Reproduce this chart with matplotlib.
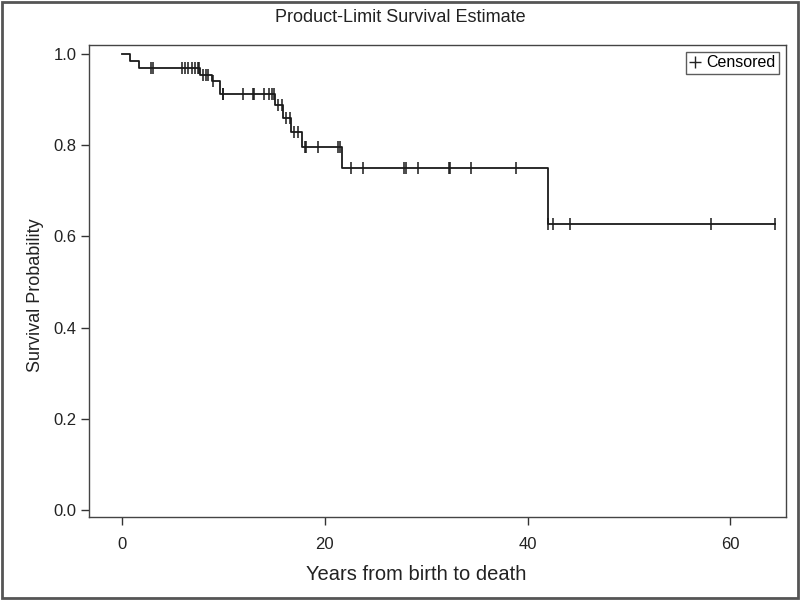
import matplotlib
matplotlib.use("Agg")
import matplotlib.pyplot as plt
import numpy as np
from matplotlib.lines import Line2D
from matplotlib.patches import Rectangle

plt.rcParams['font.family'] = ['Liberation Sans', 'DejaVu Sans']

# Step function: times where survival drops, and level after each drop
step_times = [0.0, 0.75, 1.7, 7.7, 8.9, 9.6, 15.1, 15.9, 16.7, 17.7, 21.7, 42.0]
step_levels = [1.0, 0.985, 0.969, 0.955, 0.940, 0.912, 0.888, 0.859, 0.830, 0.797, 0.751, 0.627]
end_time = 64.4

# Censored observation times
censor_times = [2.8, 3.0, 5.9, 6.2, 6.5, 6.9, 7.2, 7.5, 7.6,
                8.0, 8.3, 8.5, 9.0, 9.9, 9.95,
                11.9, 12.95, 13.05, 14.0, 14.5, 14.8, 15.0,
                15.35, 15.8, 16.2, 16.6, 16.9, 17.3,
                18.0, 18.1, 19.3, 21.3, 21.5,
                22.6, 23.8, 27.8, 28.0, 29.2, 32.2, 32.35, 34.4, 38.9,
                42.0, 42.5, 44.2, 58.1, 64.4]

x_ticks = [0, 20, 40, 60]
y_ticks = [0.0, 0.2, 0.4, 0.6, 0.8, 1.0]

fig = plt.figure(figsize=(8, 6), dpi=100)
ax = fig.add_axes([0.111, 0.138, 0.8715, 0.787])

xs = list(step_times) + [end_time]
ys = list(step_levels) + [step_levels[-1]]
ax.step(xs, ys, where='post', color='#1a1a1a', lw=1.3)

def surv_at(t):
    idx = np.searchsorted(step_times, t, side='right') - 1
    return step_levels[max(idx, 0)]

cy = [surv_at(t) for t in censor_times]
ax.plot(censor_times, cy, linestyle='none', marker='|', markersize=9,
        markeredgewidth=1.1, color='#1a1a1a')

ax.set_xlim(-3.3, 65.5)
ax.set_ylim(-0.0154, 1.0197)
ax.set_xticks(x_ticks)
ax.set_xticklabels([str(v) for v in x_ticks])
ax.set_yticks(y_ticks)
ax.set_yticklabels([f"{v:.1f}" for v in y_ticks])
ax.tick_params(axis='both', direction='out', length=6, width=1, labelsize=12,
               color='#333333', labelcolor='#222222', pad=3)
ax.tick_params(axis='x', pad=8)
for s in ax.spines.values():
    s.set_color('#444444')
    s.set_linewidth(1.0)

fig.text(416 / 800, 1 - 574 / 600, 'Years from birth to death', ha='center', va='center',
         fontsize=14.5, color='#222222')
fig.text(36 / 800, 1 - 295 / 600, 'Survival Probability', ha='center', va='center',
         rotation=90, fontsize=13, color='#222222')
fig.text(0.5, 1 - 17 / 600, 'Product-Limit Survival Estimate', ha='center', va='center',
         fontsize=13, color='#222222')

handle = Line2D([], [], linestyle='none', marker='+', markersize=9,
                markeredgewidth=1.0, color='#222222')
leg = ax.legend([handle], ['Censored'], loc='upper right', fontsize=11.5,
                frameon=True, fancybox=False, handlelength=0.7, handletextpad=0.35,
                borderpad=0.2, borderaxespad=0.45)
leg.get_frame().set_edgecolor('#333333')
leg.get_frame().set_linewidth(1.0)

fig.patches.append(Rectangle((0.002, 0.003), 0.996, 0.994, transform=fig.transFigure,
                             fill=False, edgecolor='#555555', linewidth=2))

fig.savefig('out.png', dpi=100)
